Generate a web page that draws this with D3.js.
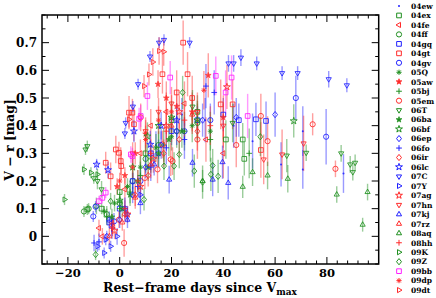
<!DOCTYPE html>
<html><head><meta charset="utf-8">
<script src="https://cdn.jsdelivr.net/npm/d3@7"></script>
<style>body{margin:0;background:#fff}svg{display:block}</style>
</head><body><svg id="c" width="436" height="298"></svg>
<script>
// ---- data: [day since Vmax, V-r, error] ----
const s04ew=[[-3,0.02,0.03],[5,0.19,0.04],[14,0.33,0.05],[24,0.44,0.06],[33,0.42,0.08],[44,0.4,0.08],[51.3,0.344,0.1],[62.3,0.26,0.08],[70.7,0.38,0.09],[70.7,0.242,0.07],[86.4,0.227,0.07]];
const s04ex=[[-12.5,0.097,0.02],[-7,0.1,0.02],[0,0.16,0.03],[10,0.3,0.04],[20,0.42,0.05],[30,0.45,0.06],[41,0.35,0.07],[47.5,0.35,0.06],[48.1,0.28,0.06]];
const s04fe=[[-8,0.03,0.03],[-6.7,0.0,0.03],[-3,0.05,0.03],[2,0.17,0.04],[8,0.3,0.05],[12,0.4,0.06],[18,0.45,0.07],[25,0.48,0.08],[33.3,0.35,0.08],[40,0.3,0.09]];
const s04ff=[[-13.8,0.09,0.02],[-12,0.1,0.02],[-9,0.11,0.03],[-5,0.08,0.03],[0,0.12,0.03],[5,0.2,0.04],[10,0.28,0.05],[15,0.33,0.05],[22,0.38,0.06],[30,0.41,0.07]];
const s04gq=[[-4,0.05,0.02],[0,0.1,0.03],[5,0.2,0.03],[12,0.3,0.04],[20,0.38,0.05],[30,0.42,0.05],[40,0.44,0.06],[46,0.42,0.06],[52.6,0.423,0.06],[56.5,0.417,0.07]];
const s04gt=[[-5.4,0.266,0.04],[-3.5,0.217,0.05],[-1.5,0.314,0.05],[-0.3,0.302,0.04],[0.4,0.272,0.05],[0.6,0.254,0.05],[3.6,0.447,0.06],[4.9,0.447,0.05],[5.5,0.405,0.06],[16.5,0.586,0.07],[22,0.52,0.08],[24.5,0.70,0.08],[26.2,0.586,0.08],[28,0.5,0.08],[39,0.477,0.09],[43.6,0.477,0.09],[54.5,0.312,0.1]];
const s04gv=[[-10.2,0.072,0.02],[-9.3,0.107,0.02],[-4,0.06,0.03],[-2.2,0.054,0.03],[2,0.1,0.03],[8,0.2,0.04],[15,0.3,0.05],[25,0.38,0.05],[35,0.42,0.06],[68,0.5,0.08],[79.7,0.36,0.1]];
const s05Q=[[-6,0.09,0.02],[-2,0.12,0.03],[3,0.18,0.03],[8,0.25,0.04],[14,0.32,0.05],[20,0.36,0.05],[28,0.4,0.06],[35,0.38,0.07]];
const s05aw=[[-1,0.18,0.03],[2,0.22,0.03],[6,0.3,0.04],[10,0.37,0.05],[14.8,0.55,0.05],[18,0.5,0.06],[22,0.47,0.06],[28,0.45,0.07],[34.2,0.582,0.08],[40,0.43,0.08]];
const s05bj=[[-5,0.07,0.03],[0,0.1,0.03],[4,0.16,0.04],[8,0.22,0.05],[12,0.28,0.05],[17,0.33,0.06],[25,0.38,0.07],[35,0.35,0.08],[50,0.3,0.09]];
const s05em=[[1.7,-0.024,0.05],[-0.3,0.06,0.03],[8.1,0.43,0.05],[9.7,0.211,0.04],[14.6,0.242,0.05],[16.5,0.332,0.05],[19.7,0.278,0.06],[20.4,0.272,0.05],[30,0.35,0.07],[45,0.33,0.08],[54.5,0.435,0.08],[57.1,0.344,0.09],[74.5,0.405,0.04],[83.3,0.244,0.03]];
const s06T=[[-13.2,0.314,0.02],[-12.5,0.326,0.02],[-10,0.21,0.02],[-8.6,0.2,0.03],[-7,0.17,0.03],[28.1,0.469,0.06],[43.6,0.41,0.07],[64.5,0.292,0.06],[72,0.302,0.03],[85.5,0.3,0.03],[89,0.26,0.03],[90.9,0.266,0.03],[90,0.232,0.03]];
const s06ba=[[-3,0.07,0.03],[1,0.1,0.03],[4,0.15,0.04],[7,0.2,0.04],[11,0.25,0.05],[15,0.3,0.05],[19,0.35,0.06],[24,0.38,0.06]];
const s06bf=[[0,0.13,0.03],[5,0.25,0.04],[10.7,0.362,0.05],[15,0.4,0.05],[20,0.43,0.06],[30,0.42,0.07],[67.2,0.417,0.06]];
const s06ep=[[-5,0.0,0.02],[0,0.06,0.03],[5,0.15,0.03],[10,0.25,0.04],[16,0.33,0.05],[22,0.38,0.05],[32,0.42,0.06],[45,0.43,0.07],[60,0.44,0.08]];
const s06fo=[[-9.9,-0.024,0.03],[-8,-0.02,0.03],[-3,0.03,0.03],[2,0.1,0.04],[7,0.18,0.04],[12,0.25,0.05],[18,0.32,0.06],[25,0.35,0.07],[33.3,0.543,0.08],[36.5,0.52,0.08]];
const s06ir=[[-3,0.04,0.03],[2,0.08,0.03],[6,0.15,0.04],[11,0.22,0.04],[17,0.3,0.05],[23,0.35,0.06],[30,0.38,0.07]];
const s06lc=[[-8.9,0.26,0.02],[-4.5,0.24,0.03],[5.5,0.38,0.04],[11.8,0.332,0.05],[16,0.4,0.05],[22,0.42,0.06]];
const s07C=[[2,0.372,0.02],[2.3,0.41,0.02],[5.1,0.469,0.02],[7.1,0.55,0.02],[11.7,0.65,0.02],[15.2,0.70,0.02],[17.1,0.71,0.02],[27,0.70,0.02],[42,0.625,0.03],[44,0.625,0.03],[46.8,0.646,0.03],[52.9,0.625,0.025],[62.7,0.59,0.025],[68.7,0.59,0.025],[80.7,0.568,0.03],[87.7,0.546,0.025]];
const s07Y=[[-8.6,-0.036,0.02],[-6,-0.06,0.02],[-5.4,-0.012,0.02],[-3.5,-0.036,0.02],[-1,0.0,0.03],[3,0.08,0.03],[8,0.15,0.03]];
const s07ag=[[-2,0.02,0.03],[3,0.08,0.03],[8,0.18,0.04],[13,0.28,0.05],[18,0.4,0.06],[23,0.45,0.06],[41.4,0.54,0.08]];
const s07hn=[[5,0.3,0.04],[10,0.38,0.05],[15,0.45,0.05],[20,0.48,0.06],[30,0.45,0.07],[40,0.4,0.08],[55.6,0.278,0.09],[62.7,0.296,0.09],[71,0.336,0.1]];
const s07kj=[[3,0.06,0.03],[8,0.12,0.04],[13.3,0.26,0.04],[19.1,0.205,0.05],[28.1,0.266,0.05],[35.9,0.205,0.06],[39.7,0.268,0.06],[41.9,0.193,0.06]];
const s07rz=[[-4,0.0,0.03],[1,0.05,0.03],[6,0.14,0.04],[12,0.26,0.05],[20,0.4,0.06],[28,0.44,0.07]];
const s08aq=[[32,0.2,0.04],[47.5,0.179,0.04],[51.3,0.232,0.05],[57.1,0.22,0.05],[64.9,0.208,0.05],[83.8,0.151,0.03],[93.8,0.042,0.025],[95.7,0.16,0.03]];
const s08hh=[[-2.8,0.03,0.03],[2,0.1,0.03],[7,0.2,0.04],[12,0.3,0.05],[18,0.38,0.06],[25,0.42,0.06],[35,0.4,0.07]];
const s09K=[[-21.3,0.133,0.02],[-13.8,0.242,0.02],[-11.1,0.23,0.02],[-8.6,0.224,0.02]];
const s09Z=[[-9.3,-0.066,0.02],[-3.5,0.127,0.03],[9.4,0.133,0.04],[17.1,0.254,0.05],[21,0.254,0.05],[23,0.296,0.05],[24.3,0.52,0.06],[28.8,0.236,0.06],[32,0.196,0.06],[35.2,0.224,0.06],[35.9,0.256,0.06],[38,0.217,0.06],[54.3,0.36,0.07]];
const s09bb=[[-8,0.127,0.02],[-6.7,0.139,0.02],[-5.4,0.158,0.02],[4.3,0.296,0.03],[4.9,0.29,0.03],[7.5,0.425,0.04],[8.1,0.435,0.04],[10.7,0.507,0.05],[19.5,0.574,0.06],[37.1,0.58,0.07],[40.9,0.52,0.08],[43.2,0.574,0.08],[49.4,0.435,0.08]];
const s09dp=[[0,0.2,0.03],[5,0.25,0.04],[10,0.35,0.05],[15,0.42,0.05],[20,0.45,0.06],[32.5,0.528,0.07]];
const s09dt=[[3.6,0.423,0.03],[9.4,0.543,0.04],[11.3,0.585,0.04],[12.8,0.63,0.05],[15.2,0.67,0.05],[17,0.667,0.05]];

const names=["04ew","04ex","04fe","04ff","04gq","04gt","04gv","05Q","05aw","05bj","05em","06T","06ba","06bf","06ep","06fo","06ir","06lc","07C","07Y","07ag","07hn","07kj","07rz","08aq","08hh","09K","09Z","09bb","09dp","09dt"];
const seriesData=[s04ew,s04ex,s04fe,s04ff,s04gq,s04gt,s04gv,s05Q,s05aw,s05bj,s05em,s06T,s06ba,s06bf,s06ep,s06fo,s06ir,s06lc,s07C,s07Y,s07ag,s07hn,s07kj,s07rz,s08aq,s08hh,s09K,s09Z,s09bb,s09dp,s09dt];
const colorKeys=["b","g","r","g","b","r","b","g","r","g","r","g","g","g","b","b","r","b","b","b","r","r","b","r","g","r","g","g","m","r","r"];
const shapeKeys=["dot","square","tleft","circle","square","square","circle","aster","fstar","plus","circle","tdown","fstar","star","diamond","plus","diamond","star","tdown","tright","star","tdown","tup","tup","tup","plus","tright","diamond","square","aster","tright"];
const xTicks=[-20,0,20,40,60,80];
const yTicks=[0,0.1,0.2,0.3,0.4,0.5,0.6,0.7];

const palette={r:"#ff2a2a",g:"#1f8f1f",b:"#2020ff",m:"#ff20ff"};
const W=436,H=298,L=42,R=378.7,T=15,B=264;
const x=d3.scaleLinear().domain([-30,100]).range([L,R]);
const y=d3.scaleLinear().domain([-0.1,0.8]).range([B,T]);
const svg=d3.select("#c");

function shapePath(k,r){
  const p=d3.path();
  const tri=(a)=>{for(let i=0;i<3;i++){const t=a+i*2*Math.PI/3;const px=r*1.15*Math.cos(t),py=r*1.15*Math.sin(t);i?p.lineTo(px,py):p.moveTo(px,py);}p.closePath();};
  switch(k){
    case "square": p.rect(-r*0.9,-r*0.9,r*1.8,r*1.8);break;
    case "circle": p.moveTo(r,0);p.arc(0,0,r,0,2*Math.PI);break;
    case "diamond": p.moveTo(0,-r*1.2);p.lineTo(r*0.95,0);p.lineTo(0,r*1.2);p.lineTo(-r*0.95,0);p.closePath();break;
    case "tup": tri(-Math.PI/2);break;
    case "tdown": tri(Math.PI/2);break;
    case "tleft": tri(Math.PI);break;
    case "tright": tri(0);break;
    case "plus": p.moveTo(-r*1.1,0);p.lineTo(r*1.1,0);p.moveTo(0,-r*1.1);p.lineTo(0,r*1.1);break;
    case "aster": for(let i=0;i<4;i++){const t=i*Math.PI/4;p.moveTo(-r*1.0*Math.cos(t),-r*1.0*Math.sin(t));p.lineTo(r*1.0*Math.cos(t),r*1.0*Math.sin(t));}break;
    case "fstar": return d3.symbol(d3.symbolStar,r*r*1.5)();
    default: return d3.symbol(d3.symbolStar,r*r*2.2)();
  }
  return p.toString();
}
function drawMarker(g,k,col){
  if(k==="dot"){g.append("circle").attr("r",1).attr("fill",col);return;}
  const filled=(k==="fstar");
  g.append("path").attr("d",shapePath(k,2.6))
   .attr("fill",filled?col:"none").attr("stroke",col).attr("stroke-width",filled?0.8:1);
}

// error bars
const plot=svg.append("g");
seriesData.forEach((arr,i)=>{
  const col=palette[colorKeys[i]];
  plot.append("g").selectAll("line").data(arr).join("line")
    .attr("x1",d=>x(d[0])).attr("x2",d=>x(d[0]))
    .attr("y1",d=>y(d[1]-d[2])).attr("y2",d=>y(d[1]+d[2]))
    .attr("stroke",col).attr("stroke-width",1.4).attr("stroke-opacity",0.45);
});
seriesData.forEach((arr,i)=>{
  const col=palette[colorKeys[i]];
  arr.forEach(d=>{
    const g=plot.append("g").attr("transform",`translate(${x(d[0])},${y(d[1])})`).attr("opacity",0.85);
    drawMarker(g,shapeKeys[i],col);
  });
});

// axes (ticks inward on all four sides)
const font="'DejaVu Serif', serif";
const xMinor=d3.range(-28,100,4), yMinor=d3.range(-0.1,0.8001,0.05);
const ax=svg.append("g").attr("stroke","#000").attr("stroke-width",1);
xMinor.forEach(v=>{const maj=xTicks.includes(v);const len=maj?7:3.5;
  ax.append("line").attr("x1",x(v)).attr("x2",x(v)).attr("y1",B).attr("y2",B-len);
  ax.append("line").attr("x1",x(v)).attr("x2",x(v)).attr("y1",T).attr("y2",T+len);});
yMinor.forEach(v=>{const maj=yTicks.some(t=>Math.abs(t-v)<1e-6);const len=maj?7:3.5;
  ax.append("line").attr("x1",L).attr("x2",L+len).attr("y1",y(v)).attr("y2",y(v));
  ax.append("line").attr("x1",R).attr("x2",R-len).attr("y1",y(v)).attr("y2",y(v));});
svg.append("rect").attr("x",L).attr("y",T).attr("width",R-L).attr("height",B-T)
  .attr("fill","none").attr("stroke","#000").attr("stroke-width",1.5);

svg.append("g").selectAll("text").data(xTicks).join("text")
  .attr("x",d=>x(d)).attr("y",B+12.5).attr("text-anchor","middle")
  .attr("font-family",font).attr("font-weight","bold").attr("font-size",11.5)
  .text(d=>d<0?"\u2212"+Math.abs(d):d);
svg.append("g").selectAll("text").data(yTicks).join("text")
  .attr("x",L-5).attr("y",d=>y(d)+4.5).attr("text-anchor","end")
  .attr("font-family",font).attr("font-weight","bold").attr("font-size",12)
  .text(d=>d===0?"0":d.toFixed(1));

const xl=svg.append("text").attr("x",200).attr("y",291.5).attr("text-anchor","middle")
  .attr("font-family",font).attr("font-weight","bold").attr("font-size",12.5);
xl.append("tspan").text("Rest\u2212frame days since V");
xl.append("tspan").attr("font-size",9).attr("dy",3).text("max");
svg.append("text").attr("transform","translate(14,140) rotate(-90)").attr("text-anchor","middle")
  .attr("font-family",font).attr("font-weight","bold").attr("font-size",12.5)
  .text("V \u2212 r [mag]");

// legend
const lg=svg.append("g");
names.forEach((n,i)=>{
  const yy=6+i*9.47;
  const g=lg.append("g").attr("transform",`translate(399,${yy})`);
  drawMarker(g,shapeKeys[i],palette[colorKeys[i]]);
  lg.append("text").attr("x",411).attr("y",yy+2.8).attr("font-family",font)
    .attr("font-weight","bold").attr("font-size",7.5).text(n);
});
</script></body></html>
